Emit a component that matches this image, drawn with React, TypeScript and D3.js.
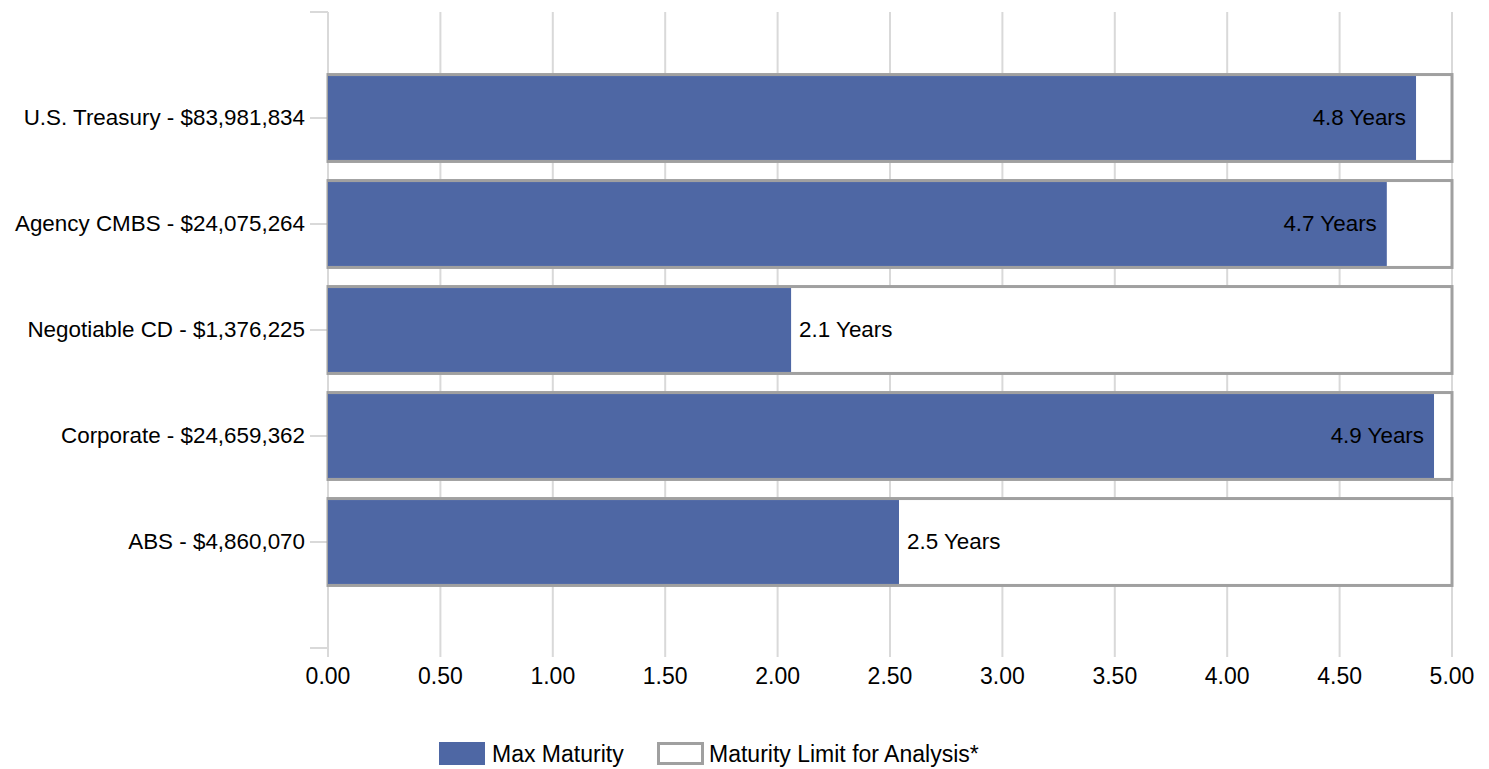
import React from "react";
import * as d3 from "d3";

// Security types with their market values, shown on the category axis
const categories = [
  "U.S. Treasury - $83,981,834",
  "Agency CMBS - $24,075,264",
  "Negotiable CD - $1,376,225",
  "Corporate - $24,659,362",
  "ABS - $4,860,070",
];
// Longest maturity held in each sector (years)
const maxMaturity = [4.84, 4.71, 2.06, 4.92, 2.54];
// Maturity limit applied in the analysis (years)
const maturityLimit = [5, 5, 5, 5, 5];
const xTicks = [0, 0.5, 1, 1.5, 2, 2.5, 3, 3.5, 4, 4.5, 5];
const legendLabels = ["Max Maturity", "Maturity Limit for Analysis*"];

const W = 1489;
const H = 769;
const margin = { left: 328, right: 37, top: 12, bottom: 121 };
const FONT = "'Liberation Sans', Arial, Helvetica, sans-serif";
const BLUE = "#4e67a4";
const OUTLINE = "#a0a0a0";
const GRID = "#d9d9d9";
const FS = 22.4;
const FS_AXIS = 23;

export default function App() {
  const x = d3.scaleLinear().domain([0, 5]).range([margin.left, W - margin.right]);
  const y = d3
    .scalePoint<string>()
    .domain(categories)
    .range([margin.top, H - margin.bottom])
    .padding(1);
  const step = y.step();
  const outerH = step * 0.82;
  const innerH = outerH - 3;
  const plotTop = margin.top;
  const plotBottom = H - margin.bottom;
  const yTicks = d3.range(0, categories.length + 2).map((i) => plotTop + i * step);
  const fmt = d3.format(".1f");

  return (
    <svg
      width={W}
      height={H}
      style={{ position: "absolute", left: 0, top: 0, background: "#fff" }}
      fontFamily={FONT}
    >
      {/* vertical grid lines with their axis ticks */}
      {xTicks.map((t) => (
        <line
          key={"g" + t}
          x1={x(t)}
          x2={x(t)}
          y1={plotTop}
          y2={plotBottom + 9}
          stroke={GRID}
          strokeWidth={2}
        />
      ))}
      {/* category axis ticks */}
      {yTicks.map((v, i) => (
        <line
          key={"yt" + i}
          x1={x(0) - 18}
          x2={x(0)}
          y1={v}
          y2={v}
          stroke={GRID}
          strokeWidth={2}
        />
      ))}
      {/* limit boxes */}
      {categories.map((c, i) => (
        <rect
          key={"lim" + c}
          x={x(0)}
          y={(y(c) as number) - outerH / 2}
          width={x(maturityLimit[i]) - x(0)}
          height={outerH}
          fill="#fff"
          stroke={OUTLINE}
          strokeWidth={3}
        />
      ))}
      {/* max maturity bars */}
      {categories.map((c, i) => (
        <rect
          key={"bar" + c}
          x={x(0)}
          y={(y(c) as number) - innerH / 2}
          width={x(maxMaturity[i]) - x(0)}
          height={innerH}
          fill={BLUE}
        />
      ))}
      {/* value labels: inside the bar end when there is no room outside */}
      {categories.map((c, i) => {
        const v = maxMaturity[i];
        const label = fmt(v) + " Years";
        const approxW = label.length * FS * 0.47;
        const inside = x(v) + 8 + approxW > x(maturityLimit[i]);
        return (
          <text
            key={"lab" + c}
            x={inside ? x(v) - 10 : x(v) + 8}
            y={y(c) as number}
            dy="0.33em"
            textAnchor={inside ? "end" : "start"}
            fontSize={FS}
            fill="#000"
          >
            {label}
          </text>
        );
      })}
      {/* category labels */}
      {categories.map((c) => (
        <text
          key={"cat" + c}
          x={x(0) - 23}
          y={y(c) as number}
          dy="0.3em"
          textAnchor="end"
          fontSize={FS}
          fill="#000"
        >
          {c}
        </text>
      ))}
      {/* x-axis tick labels */}
      {xTicks.map((t) => (
        <text
          key={"xl" + t}
          x={x(t)}
          y={plotBottom + 36}
          textAnchor="middle"
          fontSize={FS_AXIS}
          fill="#000"
        >
          {d3.format(".2f")(t)}
        </text>
      ))}
      {/* legend */}
      <g transform="translate(439, 742)">
        <rect x={0} y={0} width={46} height={23} fill={BLUE} />
        <text x={53} y={11.5} dy="0.35em" fontSize={FS_AXIS} fill="#000">
          {legendLabels[0]}
        </text>
        <rect x={219.5} y={1.5} width={44} height={20} fill="#fff" stroke={OUTLINE} strokeWidth={3} />
        <text x={270} y={11.5} dy="0.35em" fontSize={FS_AXIS} fill="#000">
          {legendLabels[1]}
        </text>
      </g>
    </svg>
  );
}
